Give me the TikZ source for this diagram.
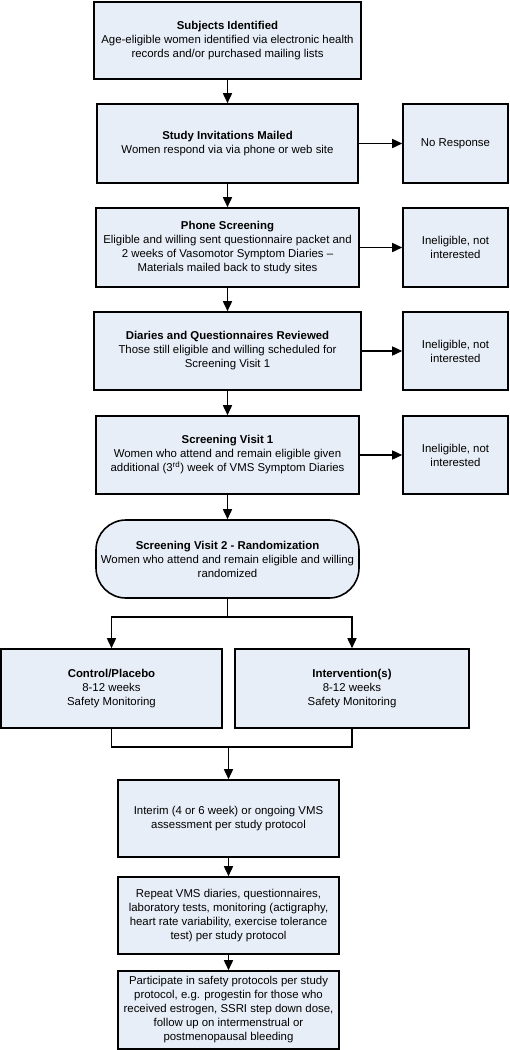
\documentclass[tikz,border=0pt]{standalone}
\usepackage{fontspec}
\setmainfont{Liberation Sans}
\usetikzlibrary{arrows.meta}
\definecolor{boxfill}{RGB}{232,238,247}
\begin{document}
\begin{tikzpicture}[x=1pt,y=-1pt,
  fbox/.style={draw, line width=1.6pt, fill=boxfill, align=center, inner sep=2pt,
    font=\fontsize{11.4}{14}\selectfont},
  conn/.style={line width=1.6pt, -{Triangle[length=10pt,width=9pt]}},
  plain/.style={line width=1.6pt}]
\useasboundingbox (0,0) rectangle (509,1050);
\node[fbox, minimum width=267pt, minimum height=77pt] (b1) at (227.5,40.5)
  {\textbf{Subjects Identified}\\Age-eligible women identified via electronic health\\records and/or purchased mailing lists};
\node[fbox, minimum width=261pt, minimum height=79pt] (b2) at (227.5,143.5)
  {\textbf{Study Invitations Mailed}\\Women respond via via phone or web site};
\node[fbox, minimum width=105pt, minimum height=79pt] (nr) at (455.5,143.5) {No Response};
\node[fbox, minimum width=263pt, minimum height=79pt] (b3) at (227.5,247.5)
  {\textbf{Phone Screening}\\Eligible and willing sent questionnaire packet and\\2 weeks of Vasomotor Symptom Diaries --\\Materials mailed back to study sites};
\node[fbox, minimum width=105pt, minimum height=79pt] (i1) at (455.5,247.5) {Ineligible, not\\interested};
\node[fbox, minimum width=267pt, minimum height=78pt] (b4) at (227.5,351)
  {\textbf{Diaries and Questionnaires Reviewed}\\Those still eligible and willing scheduled for\\Screening Visit 1};
\node[fbox, minimum width=105pt, minimum height=78pt] (i2) at (455.5,351) {Ineligible, not\\interested};
\node[fbox, minimum width=263pt, minimum height=78pt] (b5) at (227.5,455)
  {\textbf{Screening Visit 1}\\Women who attend and remain eligible given\\additional (3\textsuperscript{rd}) week of VMS Symptom Diaries};
\node[fbox, minimum width=105pt, minimum height=78pt] (i3) at (455.5,455) {Ineligible, not\\interested};
\node[fbox, rounded corners=30pt, minimum width=263pt, minimum height=78pt] (b6) at (227.5,559)
  {\textbf{Screening Visit 2 - Randomization}\\Women who attend and remain eligible and willing\\randomized};
\node[fbox, minimum width=221pt, minimum height=79pt] (ctl) at (111.5,688.5)
  {\textbf{Control/Placebo}\\8-12 weeks\\Safety Monitoring};
\node[fbox, minimum width=234pt, minimum height=79pt] (itv) at (352,688.5)
  {\textbf{Intervention(s)}\\8-12 weeks\\Safety Monitoring};
\node[fbox, minimum width=221pt, minimum height=77pt] (b7) at (228.5,818.5)
  {Interim (4 or 6 week) or ongoing VMS\\assessment per study protocol};
\node[fbox, minimum width=221pt, minimum height=77pt] (b8) at (228.5,915.5)
  {Repeat VMS diaries, questionnaires,\\laboratory tests, monitoring (actigraphy,\\heart rate variability, exercise tolerance\\test) per study protocol};
\node[fbox, minimum width=221pt, minimum height=78pt] (b9) at (228.5,1010)
  {Participate in safety protocols per study\\protocol, e.g. progestin for those who\\received estrogen, SSRI step down dose,\\follow up on intermenstrual or\\postmenopausal bleeding};
\draw[conn] (b1) -- (b2);
\draw[conn] (b2) -- (b3);
\draw[conn] (b3) -- (b4);
\draw[conn] (b4) -- (b5);
\draw[conn] (b5) -- (b6);
\draw[conn] (b2) -- (nr);
\draw[conn] (b3) -- (i1);
\draw[conn] (b4) -- (i2);
\draw[conn] (b5) -- (i3);
\coordinate (split) at (227.5,617);
\coordinate (merge) at (228.5,747);
\draw[plain] (b6.south) -- (split);
\draw[conn] (split) -| (ctl.north);
\draw[conn] (split) -| (itv.north);
\draw[plain] (ctl.south) |- (merge);
\draw[plain] (itv.south) |- (merge);
\draw[conn] (merge) -- (b7.north);
\draw[conn] (b7) -- (b8);
\draw[conn] (b8) -- (b9);
\end{tikzpicture}
\end{document}
